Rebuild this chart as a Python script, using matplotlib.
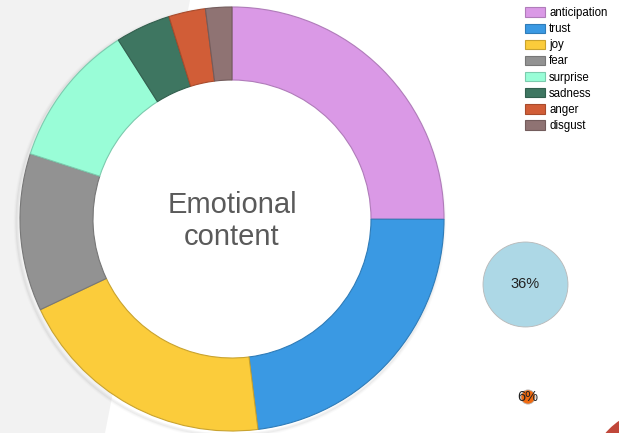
import matplotlib
matplotlib.use("Agg")
import matplotlib.pyplot as plt
from matplotlib.patches import Polygon, Circle, Patch

plt.rcParams['font.family'] = ['Liberation Sans', 'DejaVu Sans']

categories = ["anticipation", "trust", "joy", "fear", "surprise", "sadness", "anger", "disgust"]
values = [25.0, 23.0, 19.9, 12.0, 11.0, 4.2, 2.8, 2.0]
colors = ["#da99e6", "#3a99e3", "#fbcc3b", "#929292", "#99fdd7", "#3e7661", "#d15d37", "#8f7373"]
edges = ["#b07cba", "#2f7cb8", "#c9a32f", "#777777", "#7ccbae", "#325f4e", "#a84b2c", "#735c5c"]
center_title = "Emotional\ncontent"
bubble_labels = ["36%", "6%"]
bubble_values = [36, 6]
bubble_colors = ["#add8e6", "#f06a10"]

W, H = 619, 433
fig = plt.figure(figsize=(W / 100, H / 100), dpi=100)
ax = fig.add_axes([0, 0, 1, 1])
ax.set_xlim(0, W)
ax.set_ylim(0, H)
ax.set_aspect('equal')
ax.axis('off')

def Y(y):
    return H - y

# background gray band
ax.add_patch(Polygon([(0, Y(0)), (190, Y(0)), (105, Y(433)), (0, Y(433))],
                     closed=True, facecolor="#f2f2f2", edgecolor="none", zorder=0))

cx, cy, R = 232, Y(219), 212
rin = 139

# soft shadow
for i, a in enumerate([0.04, 0.025, 0.015]):
    ax.add_patch(Circle((cx - 2, cy - 3), R + 1 + i, facecolor="none",
                        edgecolor=(0, 0, 0, a), lw=2, zorder=1))

# white hole
ax.add_patch(Circle((cx, cy), rin, facecolor="white", edgecolor="none", zorder=1.5))

wedges, _ = ax.pie(values, colors=colors, startangle=90, counterclock=False,
                   center=(cx, cy), radius=R, frame=True,
                   wedgeprops=dict(width=R - rin, linewidth=0.8))
for w, e in zip(wedges, edges):
    w.set_edgecolor(e)
    w.set_zorder(2)
ax.set_xlim(0, W)
ax.set_ylim(0, H)
ax.axis('off')

ax.text(cx, Y(221), center_title, ha='center', va='center', fontsize=21,
        color="#5a5a5a", linespacing=1.17, zorder=3)

# bubbles
bpos = [(525.5, Y(284.5)), (528, Y(397))]
for (bx, by), v, c, lab in zip(bpos, bubble_values, bubble_colors, bubble_labels):
    ax.add_patch(Circle((bx, by), v * 1.18, facecolor=c, edgecolor="#b8b8b8",
                        lw=0.6, zorder=2))
    ax.text(bx, by, lab, ha='center', va='center', fontsize=10.5,
            color="#222222", zorder=3)

# red arc bottom right
ax.add_patch(Circle((660, Y(480)), 72, facecolor="#c0473a", edgecolor="none", zorder=2))

handles = [Patch(facecolor=c, edgecolor=e, lw=0.8) for c, e in zip(colors, edges)]
fig.legend(handles, categories, loc='upper left', bbox_to_anchor=(525 / W, 1 - 7 / H),
           frameon=False, fontsize=8.3, handlelength=1.75, handleheight=0.85,
           handletextpad=0.35, labelspacing=0.36, borderpad=0, borderaxespad=0)

fig.savefig("out.png", dpi=100)
